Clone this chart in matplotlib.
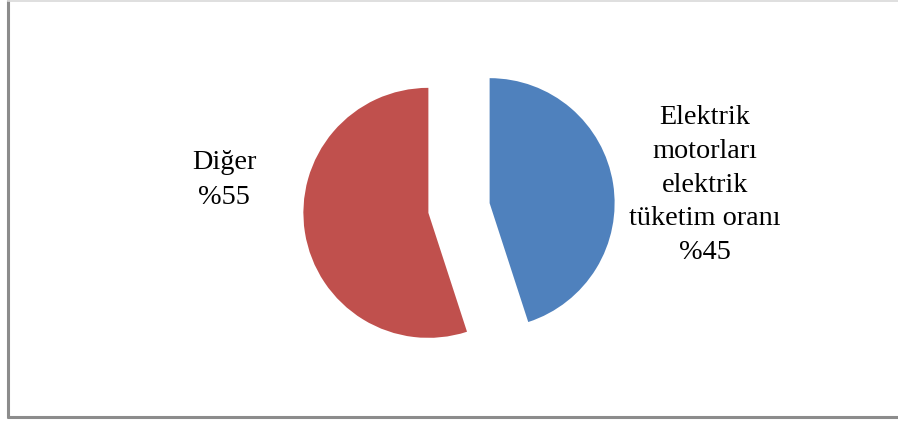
import matplotlib.pyplot as plt

# Data
labels = ['Elektrik\nmotorları\nelektrik\ntüketim oranı\n%45', 'Diğer\n%55']
values = [45, 55]
colors = ['#4F81BD', '#C0504D']

plt.rcParams['font.family'] = ['Liberation Serif', 'DejaVu Serif']

fig = plt.figure(figsize=(8.98, 4.23), dpi=100)
ax = fig.add_axes([0, 0, 1, 1])

# pie in pixel-like coordinates (y up); explode is absolute here
ax.pie(values, colors=colors, explode=[31, 31], startangle=90, counterclock=False,
       center=(459, 423 - 208), radius=125,
       wedgeprops={'linewidth': 0})

ax.set_xlim(0, 898)
ax.set_ylim(0, 423)
ax.set_aspect('auto')
ax.axis('off')

# labels
ax.text(705, 423 - 185, labels[0], ha='center', va='center', fontsize=20.3,
        linespacing=1.45, color='black')
ax.text(224, 423 - 180, labels[1], ha='center', va='center', fontsize=20.3,
        linespacing=1.5, color='black')

# chart border
ax.plot([8, 8], [5, 423], color='#8c8c8c', lw=2.2, solid_capstyle='butt')
ax.plot([7, 898], [6, 6], color='#8c8c8c', lw=2.2, solid_capstyle='butt')
ax.plot([8, 898], [422.5, 422.5], color='#d9d9d9', lw=1.2)

fig.savefig('out.png', dpi=100)
